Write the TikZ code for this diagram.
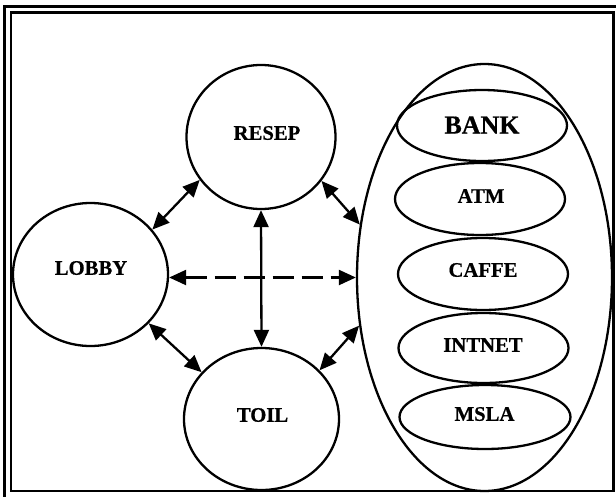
\documentclass[tikz,border=0pt]{standalone}
\usepackage{fontspec}
\setmainfont{Liberation Serif}[BoldFeatures={FakeBold=0.6}]
\usetikzlibrary{shapes.geometric,arrows.meta}

\tikzset{
  area/.style={ellipse, draw, line width=2.3pt, inner sep=0pt},
  lbl/.style={font=\bfseries\fontsize{20.7}{24}\selectfont, inner sep=0pt},
  biglbl/.style={font=\bfseries\fontsize{26}{30}\selectfont, inner sep=0pt},
  link/.style={line width=2.3pt, {Triangle[length=17pt,width=15pt]}-{Triangle[length=17pt,width=15pt]}},
  dashlink/.style={link, dash pattern=on 21pt off 8pt},
}

\begin{document}
\begin{tikzpicture}[x=1pt,y=-1pt]
  \useasboundingbox (0,0) rectangle (616,496);

  % double frame
  \draw[line width=3pt] (4,6) rectangle (621,501);
  \draw[line width=2.3pt] (11,12.5) rectangle (613.5,491);

  % rooms
  \node[area, minimum width=149pt, minimum height=144pt] (resep) at (261,137) {};
  \node[area, minimum width=155pt, minimum height=142pt] (toil) at (261.5,419) {};
  \node[area, minimum width=155pt, minimum height=143pt] (lobby) at (90.5,274.5) {};

  % service block with its units
  \node[area, minimum width=255pt, minimum height=427pt] (block) at (484.5,277.5) {};
  \node[area, minimum width=170pt, minimum height=71pt] (bank) at (482,125.5) {};
  \node[area, minimum width=170pt, minimum height=72pt] (atm) at (480,199) {};
  \node[area, minimum width=170pt, minimum height=72pt] (caffe) at (483,274) {};
  \node[area, minimum width=170pt, minimum height=70pt] (intnet) at (483.5,348) {};
  \node[area, minimum width=171pt, minimum height=64pt] (msla) at (485,417) {};

  % names
  \node[lbl] (resept) at (267,133) {RESEP};
  \node[lbl] (toilt) at (262.5,415) {TOIL};
  \node[lbl] (lobbyt) at (91,268) {LOBBY};
  \node[biglbl] (bankt) at (482,125) {BANK};
  \node[lbl] (atmt) at (481,196) {ATM};
  \node[lbl] (caffet) at (483,270) {CAFFE};
  \node[lbl] (intnett) at (483,345) {INTNET};
  \node[lbl] (mslat) at (484.5,414) {MSLA};

  % connections
  \draw[link] (lobby.36) -- (resep.215);
  \draw[link] (resep.south) -- (toil.north);
  \draw[link] (resep.-36) -- (block.157.5);
  \draw[dashlink] (lobby.east |- block.west) -- (block.west);
  \draw[link] (lobby.-40) -- (toil.142.5);
  \draw[link] (toil.40) -- (block.201);
\end{tikzpicture}
\end{document}
